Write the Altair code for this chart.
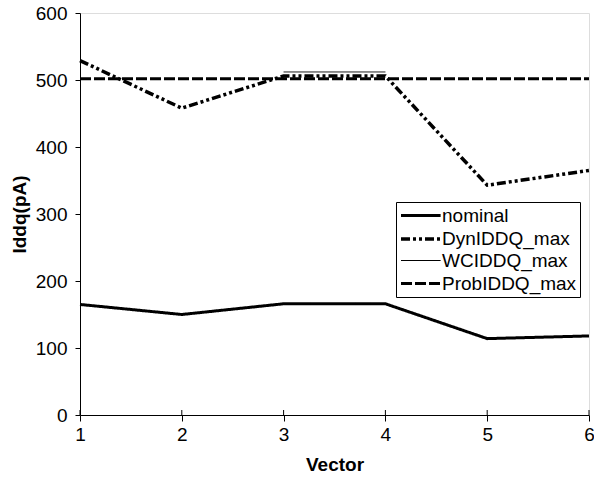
import altair as alt
import pandas as pd

vectors = [1, 2, 3, 4, 5, 6]
nominal = [165, 150, 166, 166, 114, 118]
dyn_max = [529, 458, 506, 506, 343, 365]
wc_vectors = [3, 4]
wc_max = [512, 512]
prob_max = [502, 502, 502, 502, 502, 502]
y_ticks = [0, 100, 200, 300, 400, 500, 600]

series_order = ["nominal", "DynIDDQ_max", "WCIDDQ_max", "ProbIDDQ_max"]

rows = []
for v, n in zip(vectors, nominal):
    rows.append({"Vector": v, "Iddq": n, "series": "nominal"})
for v, d in zip(vectors, dyn_max):
    rows.append({"Vector": v, "Iddq": d, "series": "DynIDDQ_max"})
for v, w in zip(wc_vectors, wc_max):
    rows.append({"Vector": v, "Iddq": w, "series": "WCIDDQ_max"})
for v, p in zip(vectors, prob_max):
    rows.append({"Vector": v, "Iddq": p, "series": "ProbIDDQ_max"})
df = pd.DataFrame(rows)
ticks_df = pd.DataFrame({"Vector": vectors})

font = "Liberation Sans"
FS = 19
W, H = 509, 402

x_scale = alt.Scale(domain=[1, 6], nice=False)
y_scale = alt.Scale(domain=[0, 600], nice=False)

legend = alt.Legend(title=None, orient="none", legendX=316, legendY=189,
                    symbolType="M-1,0H3.4", symbolSize=324, symbolStrokeColor="black",
                    labelFontSize=FS, labelFont=font, labelColor="black",
                    strokeColor="black", fillColor="white", padding=3,
                    rowPadding=2, labelOffset=21)

lines = alt.Chart(df).mark_line(color="black", strokeCap="butt").encode(
    x=alt.X("Vector:Q", scale=x_scale,
            axis=alt.Axis(values=vectors, title="Vector", format="d",
                          labelFontSize=FS, titleFontSize=FS, titleFontWeight="bold",
                          labelPadding=4, titlePadding=11, tickSize=6, grid=False,
                          domainColor="black", tickColor="black", labelColor="black",
                          labelFlush=False)),
    y=alt.Y("Iddq:Q", scale=y_scale,
            axis=alt.Axis(values=y_ticks, title="Iddq(pA)",
                          labelFontSize=FS, titleFontSize=FS, titleFontWeight="bold",
                          labelPadding=8, titlePadding=6, tickSize=5, grid=False,
                          domainColor="black", tickColor="black", labelColor="black")),
    detail="series:N",
    strokeDash=alt.StrokeDash("series:N",
        scale=alt.Scale(domain=series_order,
                        range=[[1, 0], [9, 3, 3, 3, 3, 3], [1, 0], [11, 3]]),
        legend=legend),
    strokeWidth=alt.StrokeWidth("series:N",
        scale=alt.Scale(type="ordinal", domain=series_order, range=[3, 3.5, 1, 3]),
        legend=legend),
)

inner_ticks = alt.Chart(ticks_df).mark_rule(color="black", strokeWidth=1).encode(
    x=alt.X("Vector:Q", scale=x_scale),
    y=alt.value(H - 5),
    y2=alt.value(H),
)

chart = alt.layer(lines, inner_ticks).properties(
    width=W, height=H,
    padding={"left": 80, "top": 13, "right": 5, "bottom": 65},
    autosize=alt.AutoSizeParams(type="none"),
).configure_view(
    stroke="black", strokeWidth=1
).configure(
    font=font
).configure_axis(
    labelFont=font, titleFont=font, titleColor="black"
)

chart.save("out.html", embed_options={"renderer": "svg", "actions": False})
